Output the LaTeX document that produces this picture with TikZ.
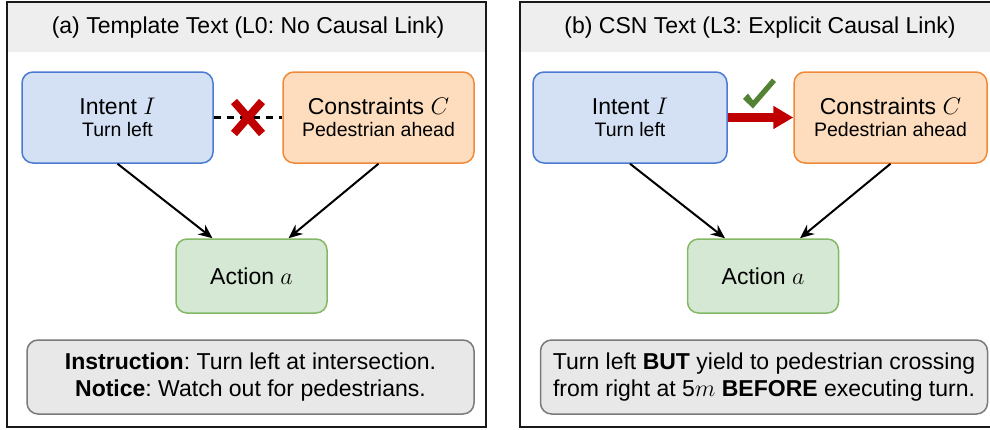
\documentclass[tikz,border=0pt]{standalone}
\usepackage{fontspec}
\setmainfont{Liberation Sans}
\usetikzlibrary{arrows.meta,calc}
\frenchspacing
\definecolor{blueF}{HTML}{D4E1F5}
\definecolor{blueD}{HTML}{4A7BD0}
\definecolor{orangeF}{HTML}{FDDDBD}
\definecolor{orangeD}{HTML}{F08A3A}
\definecolor{greenF}{HTML}{D5E8D4}
\definecolor{greenD}{HTML}{82B866}
\definecolor{grayF}{HTML}{E8E8E8}
\definecolor{grayD}{HTML}{7A7A7A}
\definecolor{headF}{HTML}{EEEEEE}
\definecolor{xred}{HTML}{C00000}
\definecolor{ckgreen}{HTML}{548235}
\begin{document}
\begin{tikzpicture}[x=0.5pt,y=-0.5pt,
  panel/.style={draw=black!90, line width=0.75pt},
  head/.style={fill=headF},
  headtext/.style={font=\fontsize{11.5}{13}\selectfont, inner sep=0pt},
  box/.style={rounded corners=5.5pt, line width=0.75pt, align=center, inner sep=0pt,
    font=\fontsize{11.5}{11}\selectfont},
  intentbox/.style={box, draw=blueD, fill=blueF, minimum height=45.5pt},
  consbox/.style={box, draw=orangeD, fill=orangeF, minimum height=45.5pt},
  actbox/.style={box, draw=greenD, fill=greenF, minimum width=75.5pt, minimum height=37pt},
  textbox/.style={box, draw=grayD, fill=grayF, minimum width=223.5pt, minimum height=37pt,
    font=\fontsize{11.5}{13.5}\selectfont},
  conn/.style={draw=black, line width=1pt, -{Stealth[length=7pt,width=6pt]}},
  nolink/.style={draw=black, line width=1.1pt, dash pattern=on 3.5pt off 3pt},
  xstroke/.style={draw=xred, line width=4pt},
  causal/.style={draw=xred, line width=4.5pt, -{Triangle[length=10pt,width=11pt]}}
]
\clip (0,0) rectangle (990,429);
\newcommand{\subl}[1]{{\fontsize{9.75}{11}\selectfont #1}}

% ---------- panel (a) ----------
\fill[head] (7,2) rectangle (486,52);
\draw[panel] (7,2) rectangle (486,427);
\node[headtext] (ha) at (248,28) {(a) Template Text (L0: No Causal Link)};

\node[intentbox, minimum width=95.5pt] (Li) at (117.5,117.5) {Intent $I$\\\subl{Turn left}};
\node[consbox, minimum width=95.5pt] (Lc) at (378.5,117.5) {Constraints $C$\\\subl{Pedestrian ahead}};
\node[actbox] (La) at (251.5,276) {Action $a$};
\node[textbox] (Lt) at (250.5,377) {\textbf{Instruction}: Turn left at intersection.\\\textbf{Notice}: Watch out for pedestrians.};

\draw[nolink] (Li.east) -- (Lc.west);
\coordinate (xm) at ($(Li.east)!0.5!(Lc.west)$);
\draw[xstroke] ($(xm)+(-14,-16)$) -- ($(xm)+(14,16)$);
\draw[xstroke] ($(xm)+(14,-16)$) -- ($(xm)+(-14,16)$);

\draw[conn] (Li.south) -- ($(La.north)+(-39,0)$);
\draw[conn] (Lc.south) -- ($(La.north)+(37,0)$);

% ---------- panel (b) ----------
\fill[head] (520,2) rectangle (1000,52);
\draw[panel] (520,2) rectangle (1000,427);
\node[headtext] (hb) at (760,28) {(b) CSN Text (L3: Explicit Causal Link)};

\node[intentbox, minimum width=97pt] (Ri) at (630,117.5) {Intent $I$\\\subl{Turn left}};
\node[consbox, minimum width=96.5pt] (Rc) at (890.5,117.5) {Constraints $C$\\\subl{Pedestrian ahead}};
\node[actbox] (Ra) at (763,276) {Action $a$};
\node[textbox] (Rt) at (764,377) {Turn left \textbf{BUT} yield to pedestrian crossing\\from right at 5$m$ \textbf{BEFORE} executing turn.};

\draw[causal] (Ri.east) -- (Rc.west);
\coordinate (ck) at ($(Ri.east)!0.5!(Rc.west)$);
\fill[ckgreen, shift={(ck)}] (-17.5,-18.5) -- (-12.5,-24) -- (-7.5,-17) -- (11.5,-39) -- (15.5,-35.5) -- (-7.5,-9) -- cycle;

\draw[conn] (Ri.south) -- ($(Ra.north)+(-38,0)$);
\draw[conn] (Rc.south) -- ($(Ra.north)+(37,0)$);
\end{tikzpicture}
\end{document}
